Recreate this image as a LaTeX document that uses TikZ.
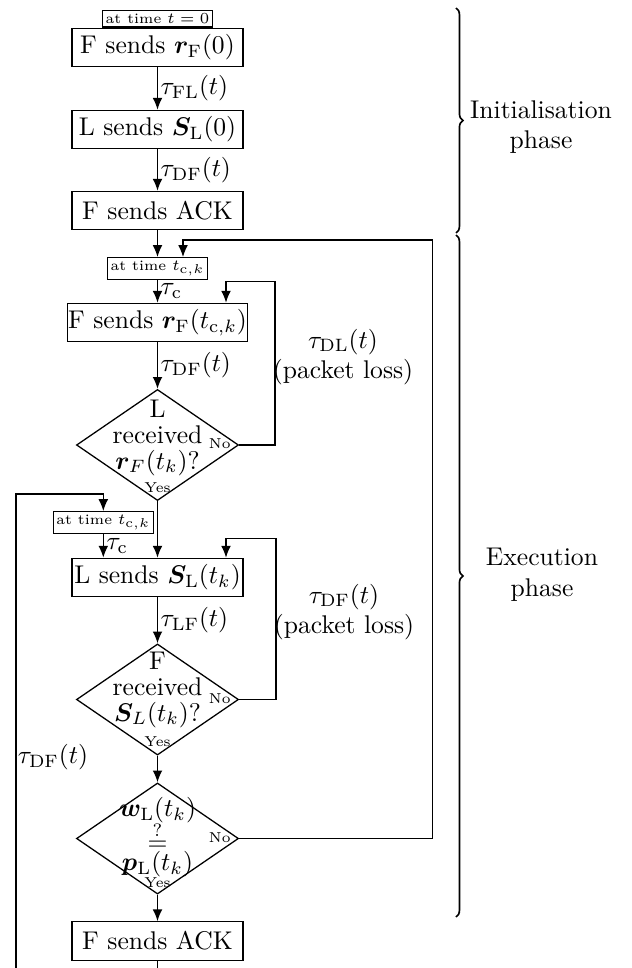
\documentclass[tikz,border=0pt]{standalone}
\usepackage{amsmath,bm}
\usetikzlibrary{shapes.geometric,arrows.meta,decorations.pathreplacing,calc}
\newcommand{\smallsz}{\fontsize{5.6}{6.7}\selectfont}
\begin{document}
\begin{tikzpicture}[x=0.390625pt,y=-0.390625pt, line width=0.5pt,
  box/.style={draw, minimum width=66.8pt, minimum height=15pt, inner xsep=0.3pt, inner ysep=1pt},
  tbox/.style={draw, font=\smallsz, inner sep=1.2pt},
  dia/.style={draw, diamond, minimum width=63.3pt, minimum height=43.4pt, inner sep=0pt},
  dtext/.style={align=center, inner sep=0pt},
  small/.style={font=\smallsz, inner sep=0pt},
  lab/.style={right, inner sep=1pt},
  arr/.style={-{Latex[length=4.6pt,width=3.8pt]}},
  brc/.style={decorate, decoration={brace, amplitude=2.7pt}, line width=0.65pt}
]
\useasboundingbox (0,0) rectangle (632,968);

% boxes
\node[box] (b1) at (157.5,47.5) {F sends $\bm{r}_\mathrm{F}(0)$};
\node[tbox, anchor=south] (t0) at (b1.north) {at time $t=0$};
\node[box] (b2) at (157.5,129.5) {L sends $\bm{S}_\mathrm{L}(0)$};
\node[box] (b3) at (157.5,210.5) {F sends ACK};
\node[tbox] (t1) at (157.5,268.5) {at time $t_{\mathrm{c},k}$};
\node[box] (b4) at (157.5,322.5) {F sends $\bm{r}_\mathrm{F}(t_{\mathrm{c},k})$};
\node[dia] (d1) at (157.5,445) {};
\node[dtext] (d1t) at (157.5,438) {L\\[-2pt]received\\[-2pt]$\bm{r}_F(t_k)$?};
\node[tbox] (t2) at (103.3,522.5) {at time $t_{\mathrm{c},k}$};
\node[box] (b5) at (157.5,577.5) {L sends $\bm{S}_\mathrm{L}(t_k)$};
\node[dia] (d2) at (157.5,699.5) {};
\node[dtext] (d2t) at (157.5,690) {F\\[-2pt]received\\[-2pt]$\bm{S}_L(t_k)$?};
\node[dia] (d3) at (157.5,838.5) {};
\node[dtext] (d3t) at (157.5,837.5) {$\bm{w}_\mathrm{L}(t_k)$\\[-1.8pt]$\stackrel{?}{=}$\\[-4.2pt]$\bm{p}_\mathrm{L}(t_k)$};
\node[box] (b6) at (157.5,941) {F sends ACK};

% yes / no
\node[small, anchor=east] (n1) at ($(d1.east)+(-8,-1)$) {No};
\node[small, anchor=south] (y1) at ($(d1.south)+(0,-8)$) {Yes};
\node[small, anchor=east] (n2) at ($(d2.east)+(-8,-1)$) {No};
\node[small, anchor=south] (y2) at ($(d2.south)+(0,-8)$) {Yes};
\node[small, anchor=east] (n3) at ($(d3.east)+(-8,-1)$) {No};
\node[small, anchor=south] (y3) at ($(d3.south)+(0,-6)$) {Yes};

% main arrows
\draw[arr] (b1) -- node[lab]{$\tau_\mathrm{FL}(t)$} (b2);
\draw[arr] (b2) -- node[lab]{$\tau_\mathrm{DF}(t)$} (b3);
\draw[arr] (b3) -- (t1);
\draw[arr] (t1) -- node[lab]{$\tau_\mathrm{c}$} (b4);
\draw[arr] (b4) -- node[lab]{$\tau_\mathrm{DF}(t)$} (d1);
\draw[arr] (d1.south) -- (b5.north);
\draw[arr] (t2.south) -- node[lab]{$\tau_\mathrm{c}$} (t2.south |- b5.north);
\draw[arr] (b5) -- node[lab]{$\tau_\mathrm{LF}(t)$} (d2);
\draw[arr] (d2) -- (d3);
\draw[arr] (d3) -- (b6);

% loops
\coordinate (l1a) at (275,281.7);
\coordinate (l1b) at (226,281.7);
\draw[arr] (d1.east) -| (l1a) -- (l1b) -- (l1b |- b4.north);
\coordinate (l2a) at (276,538.3);
\coordinate (l2b) at (226,538.3);
\draw[arr] (d2.east) -| (l2a) -- (l2b) -- (l2b |- b5.north);
\coordinate (l3a) at (432.5,240);
\coordinate (l3b) at (183,240);
\draw[arr] (d3.east) -| (l3a) -- (l3b) -- (l3b |- t1.north);
\coordinate (l4a) at (157.5,1000);
\coordinate (l4b) at (16,1000);
\coordinate (l4c) at (16,494);
\coordinate (l4d) at (103.3,494);
\draw[arr] (b6.south) -- (l4a) -- (l4b) -- (l4c) -- (l4d) -- (t2.north);

% side labels
\node[align=center] (pl1) at (343,357) {$\tau_\mathrm{DL}(t)$\\(packet loss)};
\node[align=center] (pl2) at (344,612) {$\tau_\mathrm{DF}(t)$\\(packet loss)};
\node (ldf) at (53,757) {$\tau_\mathrm{DF}(t)$};

% braces
\draw[brc] (456,8) -- (456,233);
\draw[brc] (456,235) -- (456,917);
\node[align=center] (ph1) at (541,127) {Initialisation\\phase};
\node[align=center] (ph2) at (542,575) {Execution\\phase};
\end{tikzpicture}
\end{document}
